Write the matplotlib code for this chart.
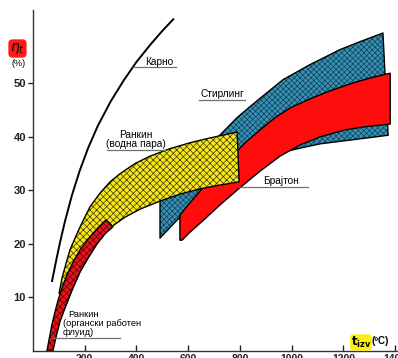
import matplotlib
matplotlib.use("Agg")
import matplotlib.pyplot as plt
from matplotlib.patches import Polygon
import numpy as np

plt.rcParams['font.family'] = ['Liberation Sans', 'DejaVu Sans']
plt.rcParams['hatch.linewidth'] = 0.5

# Carnot limit, source temperature (deg C) vs efficiency (%)
carnot_t = [73, 90, 104, 124, 150, 180, 213, 250, 300, 350, 400, 455, 500, 545]
carnot_eta = [12.9, 17.0, 20.2, 24.3, 29.0, 33.6, 37.9, 42.0, 46.6, 50.5, 54.0, 57.3, 59.8, 62.1]

# Rankine, organic working fluid (band: upper and lower edges)
orc_up_t = [54, 62, 73, 85, 97, 112, 131, 155, 182, 213, 247, 282]
orc_up_eta = [0, 2.1, 4.9, 7.3, 9.5, 11.8, 14.2, 16.6, 18.9, 20.9, 22.8, 24.5]
orc_lo_t = [77, 89, 104, 128, 151, 182, 213, 247, 278, 309]
orc_lo_eta = [0, 2.6, 5.4, 8.6, 11.4, 14.8, 17.4, 20.0, 21.9, 23.2]

# Rankine, steam
steam_up_t = [101, 112, 128, 143, 166, 193, 220, 259, 298, 336, 394, 452, 530, 607, 684, 789]
steam_up_eta = [10.8, 13.6, 16.4, 18.9, 21.5, 24.3, 26.9, 29.5, 31.6, 33.1, 35.0, 36.4,
                37.8, 38.9, 39.8, 40.9]
steam_lo_t = [128, 151, 182, 213, 247, 278, 309, 356, 414, 491, 568, 646, 723, 797]
steam_lo_eta = [8.6, 11.4, 14.8, 17.4, 20.0, 21.9, 23.4, 25.0, 26.5, 28.0, 29.3, 30.3,
                31.0, 31.6]

# Stirling
stir_up_t = [491, 491, 568, 646, 712, 789, 870, 967, 1071, 1187, 1265, 1353]
stir_up_eta = [21.1, 28.2, 32.3, 36.3, 39.8, 43.6, 46.9, 50.7, 53.5, 56.3, 57.8, 59.4]
stir_lo_t = [491, 568, 646, 723, 839, 955, 1033, 1110, 1226, 1373]
stir_lo_eta = [21.1, 25.0, 27.3, 29.2, 33.5, 37.0, 37.9, 38.7, 39.4, 40.3]

# Brayton
bray_up_t = [568, 568, 607, 646, 684, 723, 770, 820, 878, 936, 994, 1071, 1148, 1226,
             1303, 1381]
bray_up_eta = [20.7, 25.4, 27.7, 29.9, 32.1, 34.2, 36.4, 38.9, 41.3, 43.6, 45.4, 47.1,
               48.6, 49.9, 51.0, 51.9]
bray_lo_t = [576, 607, 665, 723, 800, 878, 955, 1033, 1110, 1206, 1284, 1381]
bray_lo_eta = [20.7, 22.2, 24.7, 27.3, 30.5, 33.6, 36.4, 38.5, 40.0, 41.3, 41.9, 42.4]

x_ticks = [200, 400, 600, 800, 1000, 1200, 1400]
y_ticks = [10, 20, 30, 40, 50]

W, H = 398, 358
fig = plt.figure(figsize=(W / 100, H / 100), dpi=100)
ax = fig.add_axes([33 / W, 7 / H, 366 / W, 341 / H])
ax.set_xlim(0, 1415)
ax.set_ylim(0, 63.7)


def band(up_t, up_eta, lo_t, lo_eta):
    xs = list(up_t) + list(lo_t)[::-1]
    ys = list(up_eta) + list(lo_eta)[::-1]
    return np.column_stack([xs, ys])


def draw_band(xy, face, hatch_col, hatch, z):
    if hatch:
        ax.add_patch(Polygon(xy, closed=True, facecolor=face, edgecolor=hatch_col,
                             hatch=hatch, linewidth=0, zorder=z))
    else:
        ax.add_patch(Polygon(xy, closed=True, facecolor=face, edgecolor='none',
                             linewidth=0, zorder=z))
    ax.add_patch(Polygon(xy, closed=True, fill=False, edgecolor='black',
                         linewidth=1.0, zorder=z + 0.1, joinstyle='round'))


draw_band(band(stir_up_t, stir_up_eta, stir_lo_t, stir_lo_eta), '#3592b4', '#123d55', 'xxxxxx', 2)
draw_band(band(bray_up_t, bray_up_eta, bray_lo_t, bray_lo_eta), '#ff0c0c', None, None, 3)
draw_band(band(steam_up_t, steam_up_eta, steam_lo_t, steam_lo_eta), '#f6e81c', '#3a3200', 'xxxxx', 4)
draw_band(band(orc_up_t, orc_up_eta, orc_lo_t, orc_lo_eta), '#e8141a', '#5a0000', 'xxxxx', 5)

ax.plot(carnot_t, carnot_eta, color='black', linewidth=1.4, zorder=6,
        solid_capstyle='butt', solid_joinstyle='round')

# labels with leader underlines
lab = dict(color='black', fontsize=7.3, zorder=7)
lab_s = dict(color='black', fontsize=6.7, zorder=7)
lead = dict(color='#707070', linewidth=0.9, zorder=6.5)

ax.text(433, 53.4, 'Карно', ha='left', va='baseline', **lab)
ax.plot([385, 553], [53.0, 53.0], **lead)

ax.text(731, 47.5, 'Стирлинг', ha='center', va='baseline', **lab)
ax.plot([642, 820], [46.9, 46.9], **lead)

ax.text(889, 31.2, 'Брајтон', ha='left', va='baseline', **lab)
ax.plot([797, 1063], [30.7, 30.7], **lead)

ax.text(398, 39.8, 'Ранкин', ha='center', va='baseline', **lab)
ax.text(398, 38.1, '(водна пара)', ha='center', va='baseline', **lab)
ax.plot([286, 510], [37.6, 37.6], **lead)

ax.text(135, 6.4, 'Ранкин', ha='left', va='baseline', **lab_s)
ax.text(116, 4.7, '(органски работен', ha='left', va='baseline', **lab_s)
ax.text(116, 3.0, 'флуид)', ha='left', va='baseline', **lab_s)
ax.plot([73, 336], [2.4, 2.4], **lead)

# axes styling
for s in ('top', 'right'):
    ax.spines[s].set_visible(False)
for s in ('left', 'bottom'):
    ax.spines[s].set_color('#333333')
    ax.spines[s].set_linewidth(1.0)

ax.set_xticks(x_ticks)
ax.set_yticks(y_ticks)
ax.tick_params(axis='y', direction='out', length=3.5, width=1, pad=1.5,
               labelsize=8, colors='#222222')
ax.tick_params(axis='x', direction='in', length=4, width=1, pad=2,
               labelsize=7.5, colors='#222222')
for t in ax.get_xticklabels() + ax.get_yticklabels():
    t.set_fontweight('bold')

# axis titles
fig.text(17.5 / W, 1 - 48.5 / H, r'$\eta_t$', ha='center', va='center', fontsize=10,
         color='black',
         bbox=dict(boxstyle='round,pad=0.12,rounding_size=0.3', facecolor='#ff1a1a',
                   edgecolor='none'))
fig.text(19 / W, 1 - 63.5 / H, '(%)', ha='center', va='center', fontsize=6.5,
         color='black')

fig.text(361 / W, 1 - 342.5 / H, r'$\mathbf{t}_{\mathbf{izv}}$', ha='center', va='center',
         fontsize=8.5, color='black',
         bbox=dict(boxstyle='round,pad=0.05,rounding_size=0.3', facecolor='#fff200',
                   edgecolor='none'))
fig.text(380 / W, 1 - 341.5 / H, '(ºC)', ha='center', va='center', fontsize=7,
         fontweight='bold', color='black')

fig.savefig('out.png', dpi=100)
